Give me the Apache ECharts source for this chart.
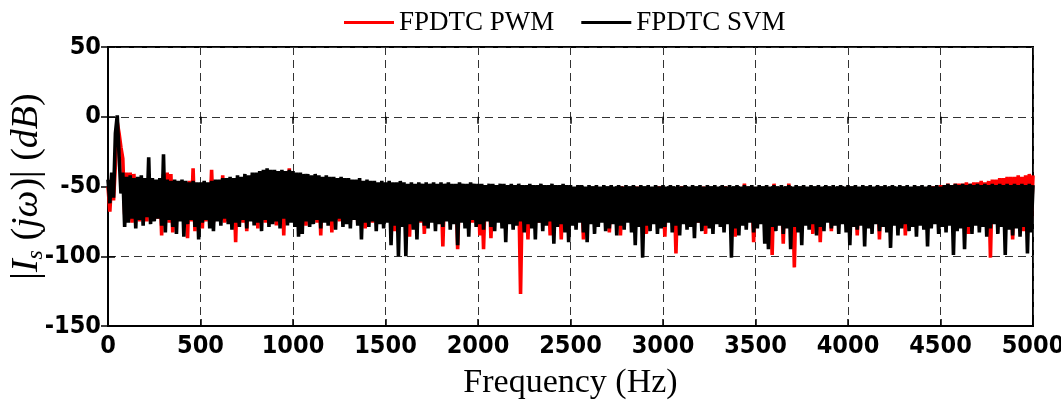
<!DOCTYPE html>
<html>
<head>
<meta charset="utf-8">
<script src="https://cdn.jsdelivr.net/npm/echarts@6/dist/echarts.min.js"></script>
<style>
html,body{margin:0;padding:0;background:#fff;}
#chart{width:1061px;height:407px;}
</style>
</head>
<body>
<div id="chart"></div>
<script>
// Spectrum samples, one every 10 Hz from 0 Hz to 5000 Hz (values in dB)
const sampleStepHz = 10;
const seriesNames = ['FPDTC PWM', 'FPDTC SVM'];
const xTicks = [0, 500, 1000, 1500, 2000, 2500, 3000, 3500, 4000, 4500, 5000];
const yTicks = [-150, -100, -50, 0, 50];

const pwmDb = [
-50,-68,-44,-60,-34,-4,-12,-22,-30,-70,
-40,-74,-40,-76,-41,-72,-44,-75,-45,-73,
-46,-75,-45,-72,-47,-74,-46,-73,-46,-85,
-41,-74,-40,-76,-41,-83,-46,-75,-47,-73,
-47,-76,-48,-87,-46,-75,-37,-82,-48,-74,
-48,-80,-47,-75,-49,-74,-38,-76,-47,-73,
-46,-74,-42,-76,-46,-75,-45,-73,-46,-90,
-44,-75,-45,-76,-43,-82,-44,-73,-42,-75,
-42,-80,-41,-74,-40,-76,-39,-73,-40,-75,
-40,-78,-41,-74,-40,-85,-41,-73,-37,-75,
-41,-74,-42,-75,-42,-73,-43,-78,-43,-74,
-44,-73,-43,-76,-44,-85,-45,-74,-44,-75,
-45,-83,-45,-74,-46,-75,-45,-74,-46,-76,
-46,-75,-47,-73,-47,-76,-46,-74,-48,-80,
-47,-74,-48,-76,-48,-73,-49,-75,-48,-74,
-49,-75,-48,-74,-49,-82,-48,-76,-48,-74,
-49,-75,-49,-86,-49,-74,-50,-73,-49,-76,
-50,-84,-49,-75,-50,-74,-49,-76,-50,-73,
-49,-93,-50,-74,-49,-76,-50,-73,-50,-95,
-49,-74,-50,-75,-50,-73,-49,-76,-50,-74,
-50,-85,-50,-95,-51,-74,-50,-87,-50,-75,
-51,-74,-50,-76,-50,-73,-51,-75,-50,-74,
-51,-75,-50,-127,-51,-74,-51,-88,-50,-75,
-51,-74,-51,-76,-50,-73,-51,-75,-51,-85,
-50,-74,-51,-76,-50,-88,-51,-80,-51,-75,
-51,-76,-51,-74,-50,-75,-51,-88,-51,-74,
-51,-75,-51,-73,-50,-76,-51,-74,-51,-75,
-51,-83,-50,-74,-51,-76,-51,-85,-50,-74,
-51,-75,-51,-74,-51,-76,-50,-73,-51,-75,
-51,-84,-50,-75,-51,-74,-51,-76,-50,-74,
-51,-86,-51,-75,-50,-74,-51,-98,-51,-75,
-50,-74,-51,-76,-51,-75,-50,-74,-51,-76,
-51,-75,-50,-84,-51,-74,-51,-76,-50,-75,
-51,-74,-51,-75,-50,-76,-51,-74,-51,-86,
-50,-75,-51,-74,-48,-76,-51,-75,-50,-90,
-51,-74,-50,-76,-51,-75,-50,-74,-51,-99,
-48,-75,-51,-74,-50,-91,-51,-76,-48,-74,
-51,-108,-50,-75,-51,-74,-50,-76,-51,-75,
-50,-84,-51,-74,-50,-90,-51,-76,-50,-75,
-51,-82,-50,-75,-51,-74,-50,-76,-51,-75,
-50,-74,-51,-76,-50,-85,-51,-75,-50,-74,
-51,-75,-50,-74,-51,-76,-50,-88,-51,-75,
-50,-74,-51,-75,-50,-76,-51,-74,-50,-75,
-51,-85,-50,-74,-51,-76,-50,-75,-51,-74,
-50,-76,-51,-75,-50,-74,-50,-76,-50,-75,
-49,-74,-49,-76,-48,-75,-49,-74,-48,-76,
-48,-75,-48,-74,-47,-84,-48,-75,-47,-76,
-47,-74,-46,-76,-47,-75,-46,-101,-45,-74,
-45,-76,-44,-75,-44,-74,-43,-76,-43,-88,
-43,-75,-42,-74,-43,-82,-42,-76,-41,-75,
-42
];

const svmDb = [
-45,-62,-40,-58,-12,1,-28,-55,-40,-79,
-43,-76,-42,-73,-44,-80,-43,-74,-42,-78,
-44,-72,-29,-77,-44,-75,-45,-73,-44,-78,
-27,-83,-45,-74,-46,-79,-45,-84,-46,-75,
-45,-86,-46,-77,-47,-74,-46,-79,-47,-88,
-47,-76,-46,-74,-47,-80,-46,-82,-45,-75,
-45,-78,-44,-73,-44,-77,-43,-81,-44,-76,
-42,-79,-43,-74,-41,-80,-42,-75,-40,-78,
-40,-76,-39,-82,-38,-74,-37,-79,-38,-77,
-38,-75,-39,-80,-38,-73,-39,-78,-38,-76,
-39,-79,-40,-86,-40,-84,-41,-75,-41,-79,
-42,-77,-41,-74,-42,-80,-43,-76,-42,-78,
-43,-75,-43,-81,-44,-73,-43,-79,-44,-77,
-44,-80,-45,-74,-45,-78,-44,-88,-46,-76,
-45,-79,-46,-75,-46,-82,-47,-77,-46,-80,
-47,-76,-46,-92,-47,-78,-47,-100,-46,-79,
-47,-100,-48,-77,-47,-81,-48,-88,-47,-75,
-48,-78,-47,-80,-48,-76,-47,-82,-48,-77,
-47,-79,-48,-75,-47,-81,-48,-77,-48,-92,
-47,-76,-48,-80,-48,-86,-47,-74,-48,-79,
-48,-77,-48,-81,-49,-75,-48,-79,-48,-82,
-49,-76,-48,-80,-48,-90,-49,-77,-48,-81,
-49,-78,-48,-75,-49,-83,-49,-77,-48,-80,
-49,-88,-49,-76,-48,-82,-49,-78,-49,-75,
-48,-91,-49,-79,-49,-77,-48,-83,-49,-90,
-49,-78,-50,-81,-49,-76,-49,-83,-50,-90,
-49,-77,-50,-84,-49,-79,-50,-76,-49,-82,
-50,-80,-49,-77,-50,-85,-49,-78,-50,-81,
-49,-76,-50,-83,-49,-92,-50,-79,-49,-101,
-50,-78,-49,-82,-50,-77,-49,-84,-50,-80,
-49,-79,-50,-76,-49,-83,-50,-78,-49,-85,
-50,-77,-49,-81,-50,-79,-49,-87,-50,-76,
-49,-82,-50,-78,-49,-80,-50,-84,-49,-77,
-50,-79,-49,-83,-50,-77,-49,-101,-50,-80,
-49,-85,-50,-78,-49,-81,-50,-76,-49,-83,
-50,-80,-49,-77,-50,-91,-49,-95,-50,-79,
-49,-82,-50,-78,-49,-84,-50,-80,-49,-95,
-50,-79,-49,-83,-50,-92,-49,-78,-50,-81,
-49,-77,-50,-85,-49,-79,-50,-82,-49,-76,
-50,-80,-49,-78,-50,-84,-49,-77,-50,-83,
-49,-92,-50,-79,-49,-81,-50,-78,-49,-93,
-50,-80,-49,-84,-50,-77,-49,-82,-50,-79,
-49,-83,-50,-94,-49,-78,-50,-85,-49,-80,
-50,-77,-49,-82,-50,-79,-49,-86,-50,-78,
-49,-81,-50,-93,-49,-80,-50,-77,-49,-84,
-50,-79,-49,-83,-48,-78,-49,-99,-48,-82,
-49,-80,-48,-95,-49,-79,-48,-84,-49,-78,
-48,-83,-49,-79,-48,-86,-49,-80,-48,-77,
-49,-84,-48,-79,-49,-99,-48,-81,-49,-85,
-48,-80,-49,-86,-48,-79,-49,-98,-48,-83,
-49
];

const toPairs = arr => arr.map((v, i) => [i * sampleStepHz, v]);

const serifFont = "'Liberation Serif', 'DejaVu Serif', serif";
const tickFont = "'Liberation Sans Narrow', 'DejaVu Sans Condensed', 'Liberation Sans', Arial, sans-serif";

const chart = echarts.init(document.getElementById('chart'), null, {renderer: 'canvas'});
const gridDash = {color: '#333', width: 1, type: [8, 5]};
const plainNum = v => String(v);

const option = {
  animation: false,
  backgroundColor: '#fff',
  legend: {
    top: 4,
    left: 339,
    icon: 'rect',
    itemWidth: 50,
    itemHeight: 3,
    itemGap: 27,
    data: seriesNames,
    textStyle: {fontFamily: serifFont, fontSize: 27, color: '#000', padding: [2, 0, 0, 0]}
  },
  grid: {left: 108, right: 28, top: 47, bottom: 81, show: true, borderColor: '#000', borderWidth: 2,
         containLabel: false, outerBoundsMode: 'none'},
  xAxis: [{
    type: 'value', min: xTicks[0], max: xTicks[xTicks.length - 1], interval: xTicks[1] - xTicks[0],
    axisLine: {show: true, onZero: false, lineStyle: {color: '#000', width: 2}},
    axisTick: {show: true, inside: true, length: 7, lineStyle: {color: '#000', width: 1.5}},
    axisLabel: {color: '#000', fontFamily: tickFont, fontWeight: 'bold', fontSize: 25, margin: 8, formatter: plainNum},
    splitLine: {show: true, lineStyle: gridDash},
    name: 'Frequency (Hz)', nameLocation: 'middle', nameGap: 40, nameMoveOverlap: false,
    nameTextStyle: {fontFamily: serifFont, fontSize: 34, color: '#000'}
  }, {
    type: 'value', position: 'top', min: xTicks[0], max: xTicks[xTicks.length - 1], interval: xTicks[1] - xTicks[0],
    axisLine: {show: false}, axisLabel: {show: false}, splitLine: {show: false},
    axisTick: {show: true, inside: true, length: 7, lineStyle: {color: '#000', width: 1.5}}
  }],
  yAxis: [{
    type: 'value', min: yTicks[0], max: yTicks[yTicks.length - 1], interval: yTicks[1] - yTicks[0],
    axisLine: {show: true, onZero: false, lineStyle: {color: '#000', width: 2}},
    axisTick: {show: true, inside: true, length: 7, lineStyle: {color: '#000', width: 1.5}},
    axisLabel: {color: '#000', fontFamily: tickFont, fontWeight: 'bold', fontSize: 25, margin: 7, formatter: plainNum},
    splitLine: {show: true, lineStyle: gridDash},
    name: '{n||}{i|I}{s|s}{n| (}{i|jω}{n|)| (}{i|dB}{n|)}',
    nameLocation: 'middle', nameRotate: 90, nameGap: 60, nameMoveOverlap: false,
    nameTextStyle: {
      rich: {
        n: {fontFamily: serifFont, fontSize: 38, color: '#000', lineHeight: 42, verticalAlign: 'middle'},
        i: {fontFamily: serifFont, fontStyle: 'italic', fontSize: 38, color: '#000', lineHeight: 42, verticalAlign: 'middle'},
        s: {fontFamily: serifFont, fontStyle: 'italic', fontSize: 24, color: '#000', lineHeight: 24, verticalAlign: 'bottom'}
      }
    }
  }, {
    type: 'value', position: 'right', min: yTicks[0], max: yTicks[yTicks.length - 1], interval: yTicks[1] - yTicks[0],
    axisLine: {show: false}, axisLabel: {show: false}, splitLine: {show: false},
    axisTick: {show: true, inside: true, length: 7, lineStyle: {color: '#000', width: 1.5}}
  }],
  series: [{
    name: seriesNames[0], type: 'line', data: toPairs(pwmDb), showSymbol: false,
    lineStyle: {color: '#ff0000', width: 3.6}, itemStyle: {color: '#ff0000'}, z: 2
  }, {
    name: seriesNames[1], type: 'line', data: toPairs(svmDb), showSymbol: false,
    lineStyle: {color: '#000000', width: 3.6}, itemStyle: {color: '#000000'}, z: 3
  }]
};
chart.setOption(option);
</script>
</body>
</html>
